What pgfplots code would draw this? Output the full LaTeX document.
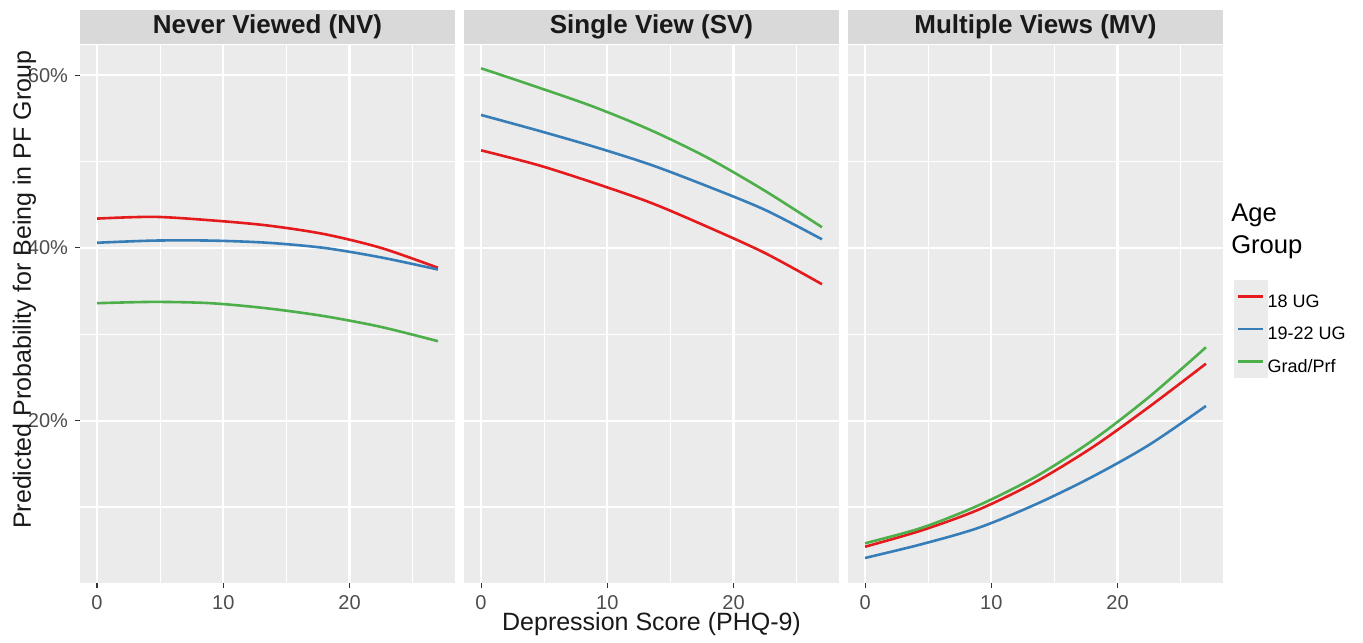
\documentclass[border=0pt]{standalone}
\usepackage{fontspec}
\setmainfont{Liberation Sans}
\usepackage{pgfplots}
\pgfplotsset{compat=1.18}
\usepackage{pgfplotstable}

\definecolor{panelgrey}{RGB}{235,235,235}
\definecolor{stripgrey}{RGB}{217,217,217}
\definecolor{txtgrey}{RGB}{77,77,77}
\definecolor{c18}{RGB}{228,26,28}
\definecolor{c1922}{RGB}{55,126,184}
\definecolor{cgrad}{RGB}{77,175,74}

% predicted probability (%) by PHQ-9 score: r = 18 UG, b = 19-22 UG, g = Grad/Prf
\pgfplotstableread{
x    r    b     g
0    43.4 40.6  33.6
4.5  43.6 40.85 33.75
9    43.2 40.85 33.6
13.5 42.6 40.6  33.0
18   41.6 40.0  32.1
22.5 40.0 38.9  30.85
27   37.7 37.5  29.2
}\nv
\pgfplotstableread{
x    r    b    g
0    51.3 55.4 60.8
4.5  49.6 53.6 58.6
9    47.5 51.7 56.3
13.5 45.2 49.6 53.6
18   42.4 47.1 50.4
22.5 39.4 44.4 46.6
27   35.8 41.0 42.4
}\sv
\pgfplotstableread{
x    r    b     g
0    5.4  4.1   5.8
4.5  7.3  5.7   7.6
9    9.7  7.6   10.2
13.5 12.9 10.3  13.5
18   16.9 13.5  17.7
22.5 21.6 17.2  22.75
27   26.6 21.7  28.5
}\mv

\pgfplotsset{
  facet/.style={
    scale only axis, width=187.5pt, height=269pt,
    xmin=-1.35, xmax=28.35, ymin=1.2, ymax=63.5,
    axis background/.style={fill=panelgrey},
    axis line style={draw=none},
    xtick={0,10,20}, ytick={20,40,60},
    minor xtick={5,15,25}, minor ytick={10,30,50},
    grid=both,
    major grid style={white, line width=1.1pt},
    minor grid style={white, line width=0.55pt},
    tick align=outside, tick pos=left,
    major tick length=2.5pt, minor tick length=0pt,
    tick style={black!80, line width=0.55pt},
    ticklabel style={font=\fontsize{10}{12}\selectfont, text=txtgrey},
    /pgf/number format/assume math mode=true,
    clip=false,
    title style={at={(0.5,1)}, anchor=south, yshift=-5.5pt, fill=stripgrey,
      inner sep=0pt, minimum width=187.5pt, minimum height=17pt,
      font=\bfseries\fontsize{13}{15}\selectfont, text=black!90},
    every axis plot/.append style={line width=1.3pt, smooth, no markers},
  },
  inner/.style={ytick style={draw=none}, yticklabels={}},
}

\begin{document}
\begin{tikzpicture}
\useasboundingbox (0,0) rectangle (681.5pt,-321pt);

\begin{axis}[facet, at={(40pt,-22.5pt)}, anchor=north west,
    title={Never Viewed (NV)},
    yticklabels={20\%,40\%,60\%},
    ylabel={Predicted Probability for Being in PF Group},
    ylabel style={at={(axis description cs:-0.148,0.545)}, anchor=center,
      font=\fontsize{12.5}{14}\selectfont, text=black!90}]
\addplot[c18] table[x=x,y=r] {\nv};
\addplot[c1922] table[x=x,y=b] {\nv};
\addplot[cgrad] table[x=x,y=g] {\nv};
\end{axis}

\begin{axis}[facet, inner, at={(232pt,-22.5pt)}, anchor=north west,
    title={Single View (SV)},
    xlabel={Depression Score (PHQ-9)},
    xlabel style={at={(axis description cs:0.5,0)}, anchor=center, yshift=-20.5pt,
      font=\fontsize{12.5}{14}\selectfont, text=black!90}]
\addplot[c18] table[x=x,y=r] {\sv};
\addplot[c1922] table[x=x,y=b] {\sv};
\addplot[cgrad] table[x=x,y=g] {\sv};
\end{axis}

\begin{axis}[facet, inner, at={(424pt,-22.5pt)}, anchor=north west,
    title={Multiple Views (MV)},
    legend cell align=left,
    legend style={at={(1.029,0.563)}, anchor=north west, draw=none, fill=none,
      inner sep=0pt, outer sep=0pt, row sep=0pt,
      nodes={inner sep=0pt, outer sep=0pt},
      font=\fontsize{9}{11}\selectfont},
    legend image code/.code={
      \fill[panelgrey] (0pt,-4.4pt) rectangle (15.5pt,10.6pt);
      \draw[#1] (1.5pt,3.2pt) -- (14pt,3.2pt);
    }]
\addplot[c18] table[x=x,y=r] {\mv};
\addlegendentry{18 UG}
\addplot[c1922] table[x=x,y=b] {\mv};
\addlegendentry{19-22 UG}
\addplot[cgrad] table[x=x,y=g] {\mv};
\addlegendentry{Grad/Prf}
\node[anchor=north west, align=left, inner sep=0pt,
  font=\fontsize{12.8}{16}\selectfont] at (rel axis cs:1.021,0.706) {Age\\Group};
\end{axis}
\end{tikzpicture}
\end{document}
